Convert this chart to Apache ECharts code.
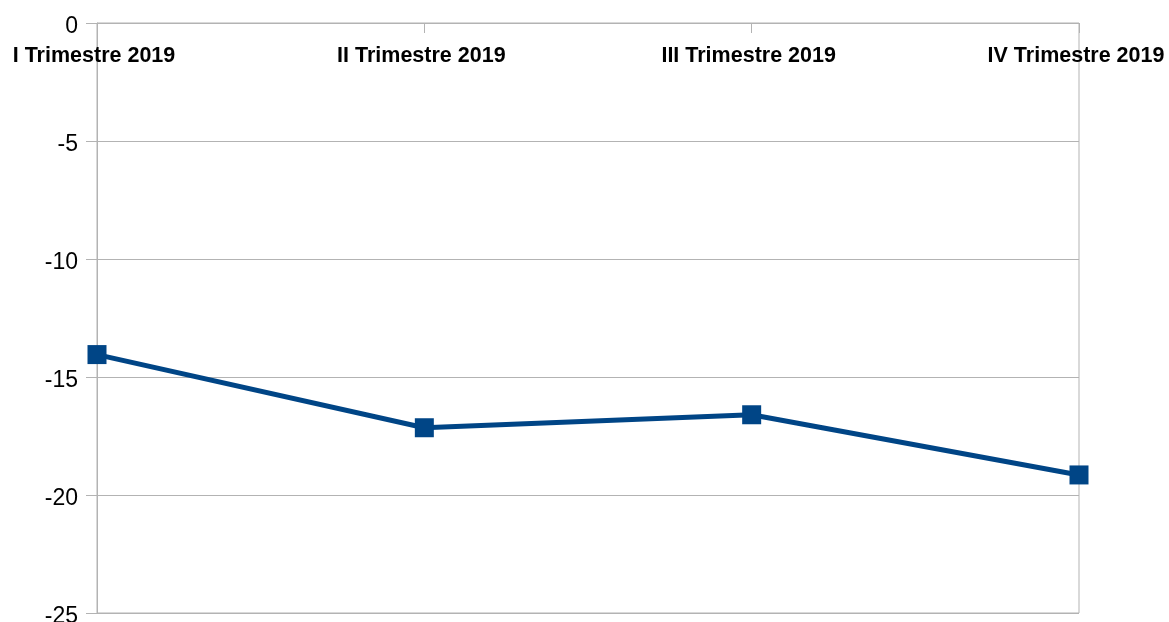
<!DOCTYPE html>
<html>
<head>
<meta charset="utf-8">
<script src="https://cdn.jsdelivr.net/npm/echarts@6/dist/echarts.min.js"></script>
<style>
    html, body { margin: 0; padding: 0; background: #fff; overflow: hidden; }
    #main { width: 1169px; height: 622px; }
</style>
</head>
<body>
<div id="main"></div>
<script>
// dati del grafico
var categories = ['I Trimestre 2019', 'II Trimestre 2019', 'III Trimestre 2019', 'IV Trimestre 2019'];
var values = [-14.05, -17.15, -16.6, -19.15];
var yTicks = [0, -5, -10, -15, -20, -25];

var gridColor = '#b3b3b3';
var lineColor = '#004586';

var myChart = echarts.init(document.getElementById('main'));
var option = {
    animation: false,
    textStyle: { fontFamily: 'Liberation Sans' },
    grid: {
        left: 97,
        right: 90,
        top: 23,
        bottom: 9,
        outerBoundsMode: 'none',
        containLabel: false,
        show: true,
        borderColor: gridColor,
        borderWidth: 1
    },
    xAxis: {
        type: 'category',
        position: 'top',
        data: categories,
        boundaryGap: false,
        axisLine: { lineStyle: { color: gridColor, width: 1 } },
        axisTick: { inside: true, length: 10, lineStyle: { color: gridColor } },
        axisLabel: {
            inside: true,
            interval: 0,
            margin: 22,
            padding: [0, 6, 0, 0],
            color: '#000',
            fontSize: 21.5,
            fontWeight: 'bold',
            fontFamily: 'Liberation Sans'
        },
        splitLine: { show: false }
    },
    yAxis: {
        type: 'value',
        min: yTicks[yTicks.length - 1],
        max: yTicks[0],
        interval: 5,
        axisLine: { show: true, lineStyle: { color: gridColor, width: 1 } },
        axisTick: { show: true, length: 11, lineStyle: { color: gridColor } },
        axisLabel: {
            margin: 19,
            formatter: '{v|{value}}',
            rich: {
                v: {
                    padding: [8, 0, 0, 0],
                    color: '#000',
                    fontSize: 23,
                    fontFamily: 'Liberation Sans'
                }
            }
        },
        splitLine: { lineStyle: { color: gridColor, width: 1 } }
    },
    series: [{
        type: 'line',
        data: values,
        symbol: 'rect',
        symbolSize: 19,
        lineStyle: { color: lineColor, width: 5 },
        itemStyle: { color: lineColor },
        clip: false
    }]
};
myChart.setOption(option);
</script>
</body>
</html>
